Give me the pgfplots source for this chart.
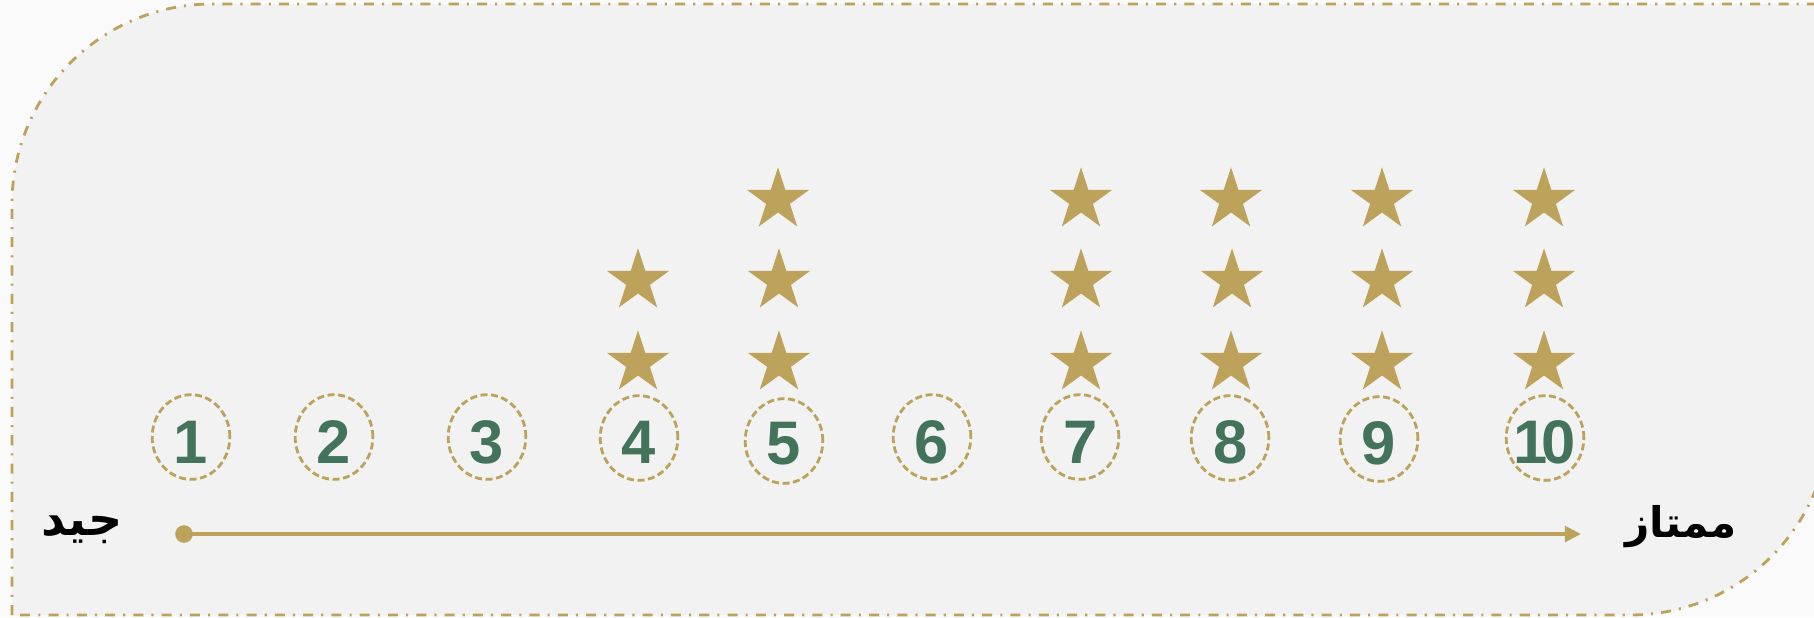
\documentclass[border=0pt]{standalone}
\usepackage{pgfplots}
\pgfplotsset{compat=1.18}
\usepackage{pgfplotstable}
\usepackage{fontspec}
\usetikzlibrary{arrows.meta}
\TeXXeTstate=1
\newfontfamily\arabicfont[Script=Arabic]{DejaVu Sans}
\newfontfamily\numfont{Liberation Sans}
\definecolor{gold}{HTML}{BDA25B}
\definecolor{dgreen}{HTML}{44735C}
\definecolor{panel}{HTML}{F2F2F2}
\definecolor{outbg}{HTML}{FAFAFA}

\pgfdeclareplotmark{fstar}{%
  \pgfpathmoveto{\pgfpointpolar{90}{\pgfplotmarksize}}%
  \pgfpathlineto{\pgfpointpolar{126}{0.382\pgfplotmarksize}}%
  \pgfpathlineto{\pgfpointpolar{162}{\pgfplotmarksize}}%
  \pgfpathlineto{\pgfpointpolar{198}{0.382\pgfplotmarksize}}%
  \pgfpathlineto{\pgfpointpolar{234}{\pgfplotmarksize}}%
  \pgfpathlineto{\pgfpointpolar{270}{0.382\pgfplotmarksize}}%
  \pgfpathlineto{\pgfpointpolar{306}{\pgfplotmarksize}}%
  \pgfpathlineto{\pgfpointpolar{342}{0.382\pgfplotmarksize}}%
  \pgfpathlineto{\pgfpointpolar{18}{\pgfplotmarksize}}%
  \pgfpathlineto{\pgfpointpolar{54}{0.382\pgfplotmarksize}}%
  \pgfpathclose
  \pgfusepathqfill
}

\pgfplotstableread{
x y label
191 442 1
334 442 2
487 442 3
639 442 4
784 444 5
932 442 6
1081 442 7
1231 442 8
1379 443 9
1545 442 1\kern-1.8pt0
}\numtab

\pgfplotstableread{
x y
191 437
334 437
487 437
639 438
784 441
932 437
1080 437
1230 438
1379 439
1545 438
}\circtab

\pgfplotstableread{
x y
638 363
638 281
779 363
779 281
778 200
1081 363
1081 281
1081 200
1231 363
1232 281
1231 200
1382 363
1382 281
1382 200
1544 363
1544 281
1544 200
}\startab

\begin{document}
\begin{tikzpicture}
\begin{scope}[x=0.1mm, y=-0.1mm, yshift=61.7mm]
  \fill[outbg] (0,0) rectangle (1814,617);
  \begin{scope}
    \clip (0,0) rectangle (1814,617);
    \path[fill=panel, draw=gold, line width=0.8pt,
          dash pattern=on 2.85pt off 2.3pt on 0.6pt off 2.3pt]
      (12,615) -- (12,204) .. controls (12,93.5) and (101.5,4) .. (212,4)
      -- (1830,4) -- (1830,415) .. controls (1830,525.5) and (1740.5,615) .. (1630,615)
      -- cycle;
  \end{scope}
\end{scope}
\begin{axis}[
  width=18.14cm, height=6.17cm, scale only axis,
  xmin=0, xmax=1814, ymin=0, ymax=617, y dir=reverse,
  hide axis, clip=false]
  % arrow line
  \addplot[gold, line width=1.2pt, -{Triangle[length=4.6pt, width=4.4pt]}]
    coordinates {(183,534) (1581,534)};
  \addplot[only marks, mark=*, mark size=2.3pt, gold] coordinates {(184,534)};
  % dashed circles
  \addplot[only marks, mark=o, mark size=11.05pt,
    mark options={draw=gold, line width=0.8pt, dash pattern=on 2pt off 1pt, yscale=1.09}]
    table[x=x, y=y] {\circtab};
  % numbers
  \addplot[only marks, mark=none, nodes near coords,
    point meta=explicit symbolic, nodes near coords align={center},
    every node near coord/.append style={anchor=center, inner sep=0pt, text=dgreen,
      font=\numfont\bfseries\fontsize{17.5}{17.5}\selectfont}]
    table[x=x, y=y, meta=label] {\numtab};
  % stars
  \addplot[only marks, mark=fstar, mark size=9.3pt, gold, mark options={fill=gold, draw=none}]
    table[x=x, y=y] {\startab};
  \node[font=\arabicfont\bfseries\fontsize{13.5}{13.5}\selectfont, text=black] at (axis cs:82,530) {\beginR جيد\endR};
  \node[font=\arabicfont\bfseries\fontsize{12}{12}\selectfont, text=black] at (axis cs:1681,527) {\beginR ممتاز\endR};
\end{axis}
\pgfresetboundingbox
\useasboundingbox (0,0) rectangle (18.14cm,6.17cm);
\end{tikzpicture}
\end{document}
